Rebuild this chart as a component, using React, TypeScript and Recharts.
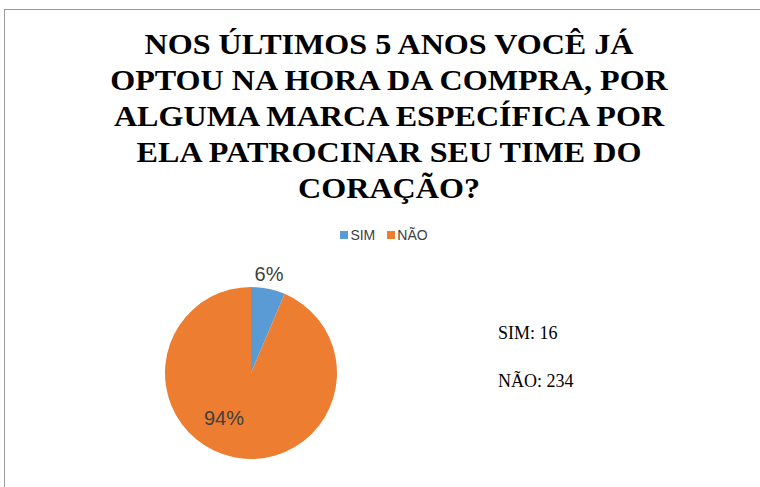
import { Legend, Pie, PieChart } from "recharts";

const categories = ["SIM", "NÃO"];
const counts = [16, 234];
const colors = ["#5B9BD5", "#ED7D31"];
const titleLines = [
  "NOS ÚLTIMOS 5 ANOS VOCÊ JÁ",
  "OPTOU NA HORA DA COMPRA, POR",
  "ALGUMA MARCA ESPECÍFICA POR",
  "ELA PATROCINAR SEU TIME DO",
  "CORAÇÃO?",
];

const data = categories.map((name, i) => ({ name, value: counts[i], fill: colors[i] }));

const RAD = Math.PI / 180;

function renderLabel(props: any) {
  const { cx, cy, midAngle, outerRadius, percent, index } = props;
  // small slice: outside the rim; big slice: inside, best-fit like Excel
  const ang = index === 0 ? midAngle + 1.2 : midAngle - 19.5;
  const r = index === 0 ? outerRadius + 14.5 : outerRadius * 0.61;
  const x = cx + r * Math.cos(ang * RAD);
  const y = cy - r * Math.sin(ang * RAD);
  return (
    <text
      x={x}
      y={y}
      textAnchor="middle"
      dominantBaseline="central"
      fill="#404040"
      fontSize={20}
      fontFamily="'Liberation Sans', sans-serif"
    >
      {`${Math.round(percent * 100)}%`}
    </text>
  );
}

function LegendContent() {
  return (
    <div style={{ display: "flex", justifyContent: "center", gap: 12, fontFamily: "'Liberation Sans', sans-serif", fontSize: 14, color: "#404040" }}>
      {data.map((d) => (
        <span key={d.name} style={{ display: "flex", alignItems: "center", gap: 2 }}>
          <span style={{ width: 8, height: 8, background: d.fill, display: "inline-block" }} />
          {d.name}
        </span>
      ))}
    </div>
  );
}

export default function App() {
  return (
    <div style={{ position: "absolute", left: 0, top: 0, width: 760, height: 487, overflow: "hidden", background: "#fff" }}>
      <div style={{ position: "absolute", left: 4, top: 9, width: 820, height: 560, border: "1.5px solid #9a9a9a" }} />
      <div
        style={{
          position: "absolute",
          left: 0,
          top: 26,
          width: 778,
          textAlign: "center",
          fontFamily: "'Liberation Serif', 'Times New Roman', serif",
          fontWeight: 700,
          fontSize: 30,
          lineHeight: "36px",
          color: "#000",
          transform: "scaleX(1.07)",
          transformOrigin: "389px 0",
        }}
      >
        {titleLines.map((t) => (
          <div key={t}>{t}</div>
        ))}
      </div>
      <PieChart width={760} height={487} margin={{ top: 0, right: 0, bottom: 0, left: 0 }} style={{ position: "absolute", left: 0, top: 0 }}>
        <Pie
          data={data}
          dataKey="value"
          nameKey="name"
          cx={251}
          cy={373}
          outerRadius={86}
          startAngle={90}
          endAngle={-270}
          stroke="none"
          label={renderLabel}
          labelLine={false}
          isAnimationActive={false}
        />
        <Legend
          content={<LegendContent />}
          wrapperStyle={{ position: "absolute", top: 227, left: 4, width: 760 }}
        />
      </PieChart>
      <div style={{ position: "absolute", left: 498, top: 323, fontFamily: "'Liberation Serif', serif", fontSize: 18, color: "#000", lineHeight: "20px" }}>
        <div>{`${categories[0]}: ${counts[0]}`}</div>
        <div style={{ marginTop: 28 }}>{`${categories[1]}: ${counts[1]}`}</div>
      </div>
    </div>
  );
}
